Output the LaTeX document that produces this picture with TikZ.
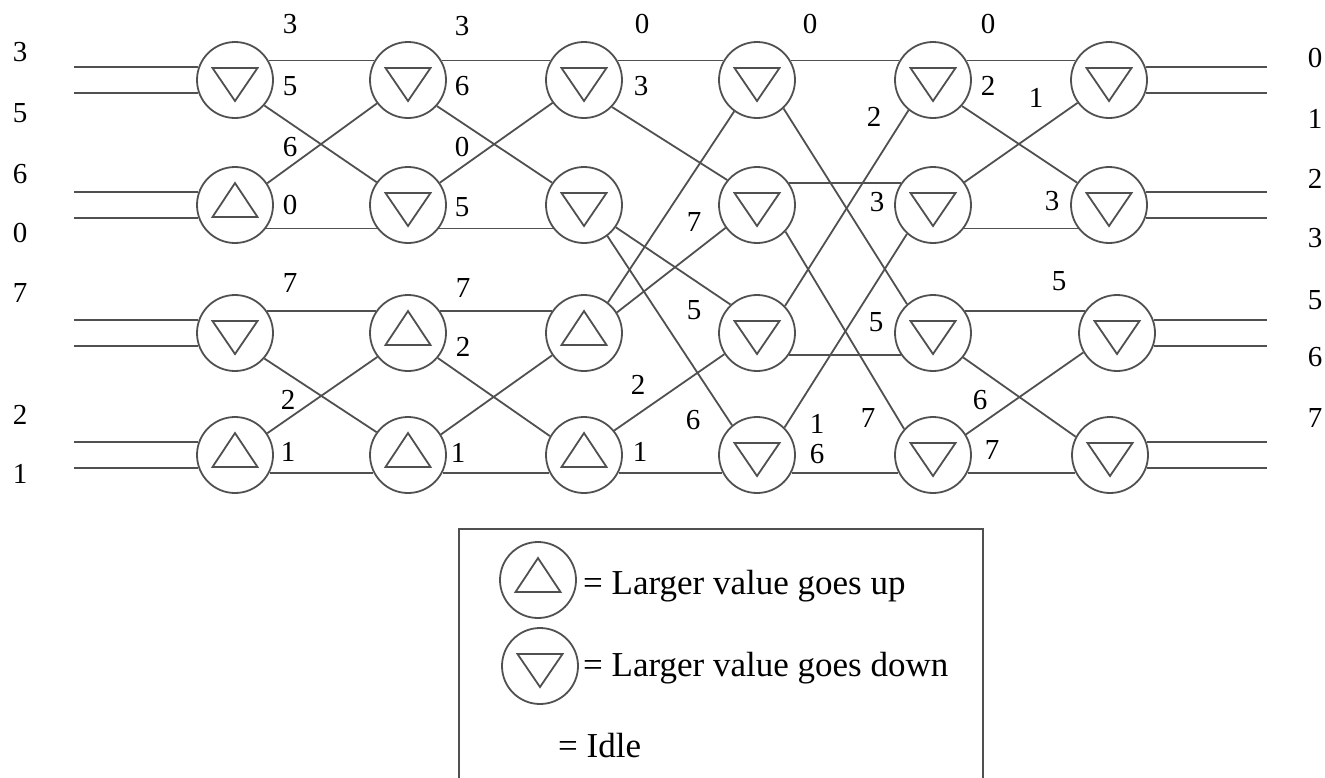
\documentclass[tikz,border=0pt]{standalone}
\usepackage{fontspec}
\setmainfont{Liberation Serif}
\definecolor{lc}{RGB}{80,80,80}
\begin{document}
\begin{tikzpicture}[x=1pt,y=-1pt,
  wire/.style={draw=lc,line width=1.8pt},
  sw/.style={circle,draw=lc,line width=1.8pt,minimum size=76pt,inner sep=0pt},
  tri/.style={draw=lc,line width=1.8pt,line join=miter},
  dnsw/.style={sw,path picture={\draw[tri] ([shift={(-22.5,-12)}]path picture bounding box.center) -- ([shift={(22.5,-12)}]path picture bounding box.center) -- ([shift={(0,21)}]path picture bounding box.center) -- cycle;}},
  upsw/.style={sw,path picture={\draw[tri] ([shift={(-22.5,12)}]path picture bounding box.center) -- ([shift={(22.5,12)}]path picture bounding box.center) -- ([shift={(0,-22)}]path picture bounding box.center) -- cycle;}},
  num/.style={font=\fontsize{29}{30}\selectfont,inner sep=0pt},
  leg/.style={font=\fontsize{35}{36}\selectfont,inner sep=0pt,anchor=base west}]
\useasboundingbox (0,0) rectangle (1325,777);

% switches
\node[dnsw] (a1) at (235,80) {};
\node[upsw] (a2) at (235,205) {};
\node[dnsw] (a3) at (235,333) {};
\node[upsw] (a4) at (235,455) {};
\node[dnsw] (b1) at (408,80) {};
\node[dnsw] (b2) at (408,205) {};
\node[upsw] (b3) at (408,333) {};
\node[upsw] (b4) at (408,455) {};
\node[dnsw] (c1) at (584,80) {};
\node[dnsw] (c2) at (584,205) {};
\node[upsw] (c3) at (584,333) {};
\node[upsw] (c4) at (584,455) {};
\node[dnsw] (d1) at (757,80) {};
\node[dnsw] (d2) at (757,205) {};
\node[dnsw] (d3) at (757,333) {};
\node[dnsw] (d4) at (757,455) {};
\node[dnsw] (e1) at (933,80) {};
\node[dnsw] (e2) at (933,205) {};
\node[dnsw] (e3) at (933,333) {};
\node[dnsw] (e4) at (933,455) {};
\node[dnsw] (f1) at (1109,80) {};
\node[dnsw] (f2) at (1109,205) {};
\node[dnsw] (f3) at (1117,333) {};
\node[dnsw] (f4) at (1110,455) {};

\coordinate (inL) at (74,0);
\coordinate (outR) at (1267,0);

% inputs and outputs
\foreach \n in {a1,a2,a3,a4}{
  \draw[wire] (\n.160) -- (\n.160 -| inL);
  \draw[wire] (\n.200) -- (\n.200 -| inL);
}
\foreach \n in {f1,f2,f3,f4}{
  \draw[wire] (\n.20) -- (\n.20 -| outR);
  \draw[wire] (\n.-20) -- (\n.-20 -| outR);
}

% a -> b
\draw[wire] (a1.30) -- (b1.150);
\draw[wire] (a1.-41) -- (b2.144);
\draw[wire] (a2.34) -- (b1.-143);
\draw[wire] (a2.-37) -- (b2.-143);
\draw[wire] (a3.35) -- (b3.145);
\draw[wire] (a3.-41) -- (b4.144);
\draw[wire] (a4.34) -- (b3.-142);
\draw[wire] (a4.-27) -- (b4.-153);
% b -> c
\draw[wire] (b1.30) -- (c1.150);
\draw[wire] (b1.-42) -- (c2.145);
\draw[wire] (b2.35) -- (c1.-144);
\draw[wire] (b2.-37) -- (c2.-143);
\draw[wire] (b3.35) -- (c3.145);
\draw[wire] (b3.-40) -- (c4.151);
\draw[wire] (b4.32) -- (c3.-145);
\draw[wire] (b4.-27) -- (c4.-153);
% c -> d
\draw[wire] (c1.30) -- (d1.150);
\draw[wire] (c1.-44) -- (d2.140);
\draw[wire] (c2.-35) -- (d3.133);
\draw[wire] (c2.-53) -- (d4.130);
\draw[wire] (c3.52) -- (d1.-126);
\draw[wire] (c3.32) -- (d2.-144);
\draw[wire] (c4.39) -- (d3.-147);
\draw[wire] (c4.-27) -- (d4.-153);
% d -> e
\draw[wire] (d1.30) -- (e1.150);
\draw[wire] (d1.-47) -- (e3.132);
\draw[wire] (d2.35) -- (e2.145);
\draw[wire] (d2.-43) -- (e4.138);
\draw[wire] (d3.44) -- (e1.-129);
\draw[wire] (d3.-35) -- (e3.-145);
\draw[wire] (d4.45) -- (e2.-132);
\draw[wire] (d4.-27) -- (e4.-153);
% e -> f
\draw[wire] (e1.30) -- (f1.150);
\draw[wire] (e1.-42) -- (f2.145);
\draw[wire] (e2.36) -- (f1.-144);
\draw[wire] (e2.-37) -- (f2.-143);
\draw[wire] (e3.35) -- (f3.145);
\draw[wire] (e3.-39) -- (f4.152);
\draw[wire] (e4.32) -- (f3.-150);
\draw[wire] (e4.-27) -- (f4.-153);

% input / output values
\foreach \y/\t [count=\i] in {52/3,113/5,174/6,233/0,293/7,415/2,474/1}
  \node[num] (in\i) at (20,\y) {\t};
\foreach \y/\t [count=\i] in {58/0,119/1,179/2,238/3,300/5,357/6,418/7}
  \node[num] (out\i) at (1315,\y) {\t};

% wire values
\foreach \x/\y/\t [count=\i] in {
  290/24/3, 290/86/5, 290/147/6, 290/205/0, 290/283/7, 288/400/2, 288/452/1,
  462/26/3, 462/86/6, 462/147/0, 462/207/5, 463/288/7, 463/347/2, 458/453/1,
  642/24/0, 641/86/3, 694/222/7, 694/310/5, 638/385/2, 693/420/6, 640/452/1,
  810/24/0, 874/117/2, 877/202/3, 876/322/5, 817/424/1, 817/454/6, 868/418/7,
  988/24/0, 988/86/2, 1036/98/1, 1052/201/3, 1059/281/5, 980/400/6, 992/450/7}
  \node[num] (v\i) at (\x,\y) {\t};

% legend
\draw[wire] (459,800) -- (459,529) -- (983,529) -- (983,800);
\node[upsw] (lgu) at (538,580) {};
\node[dnsw] (lgd) at (540,666) {};
\node[leg] (tu) at (583,594) {= Larger value goes up};
\node[leg] (td) at (583,676) {= Larger value goes down};
\node[leg] (ti) at (558,757) {= Idle};
\end{tikzpicture}
\end{document}
